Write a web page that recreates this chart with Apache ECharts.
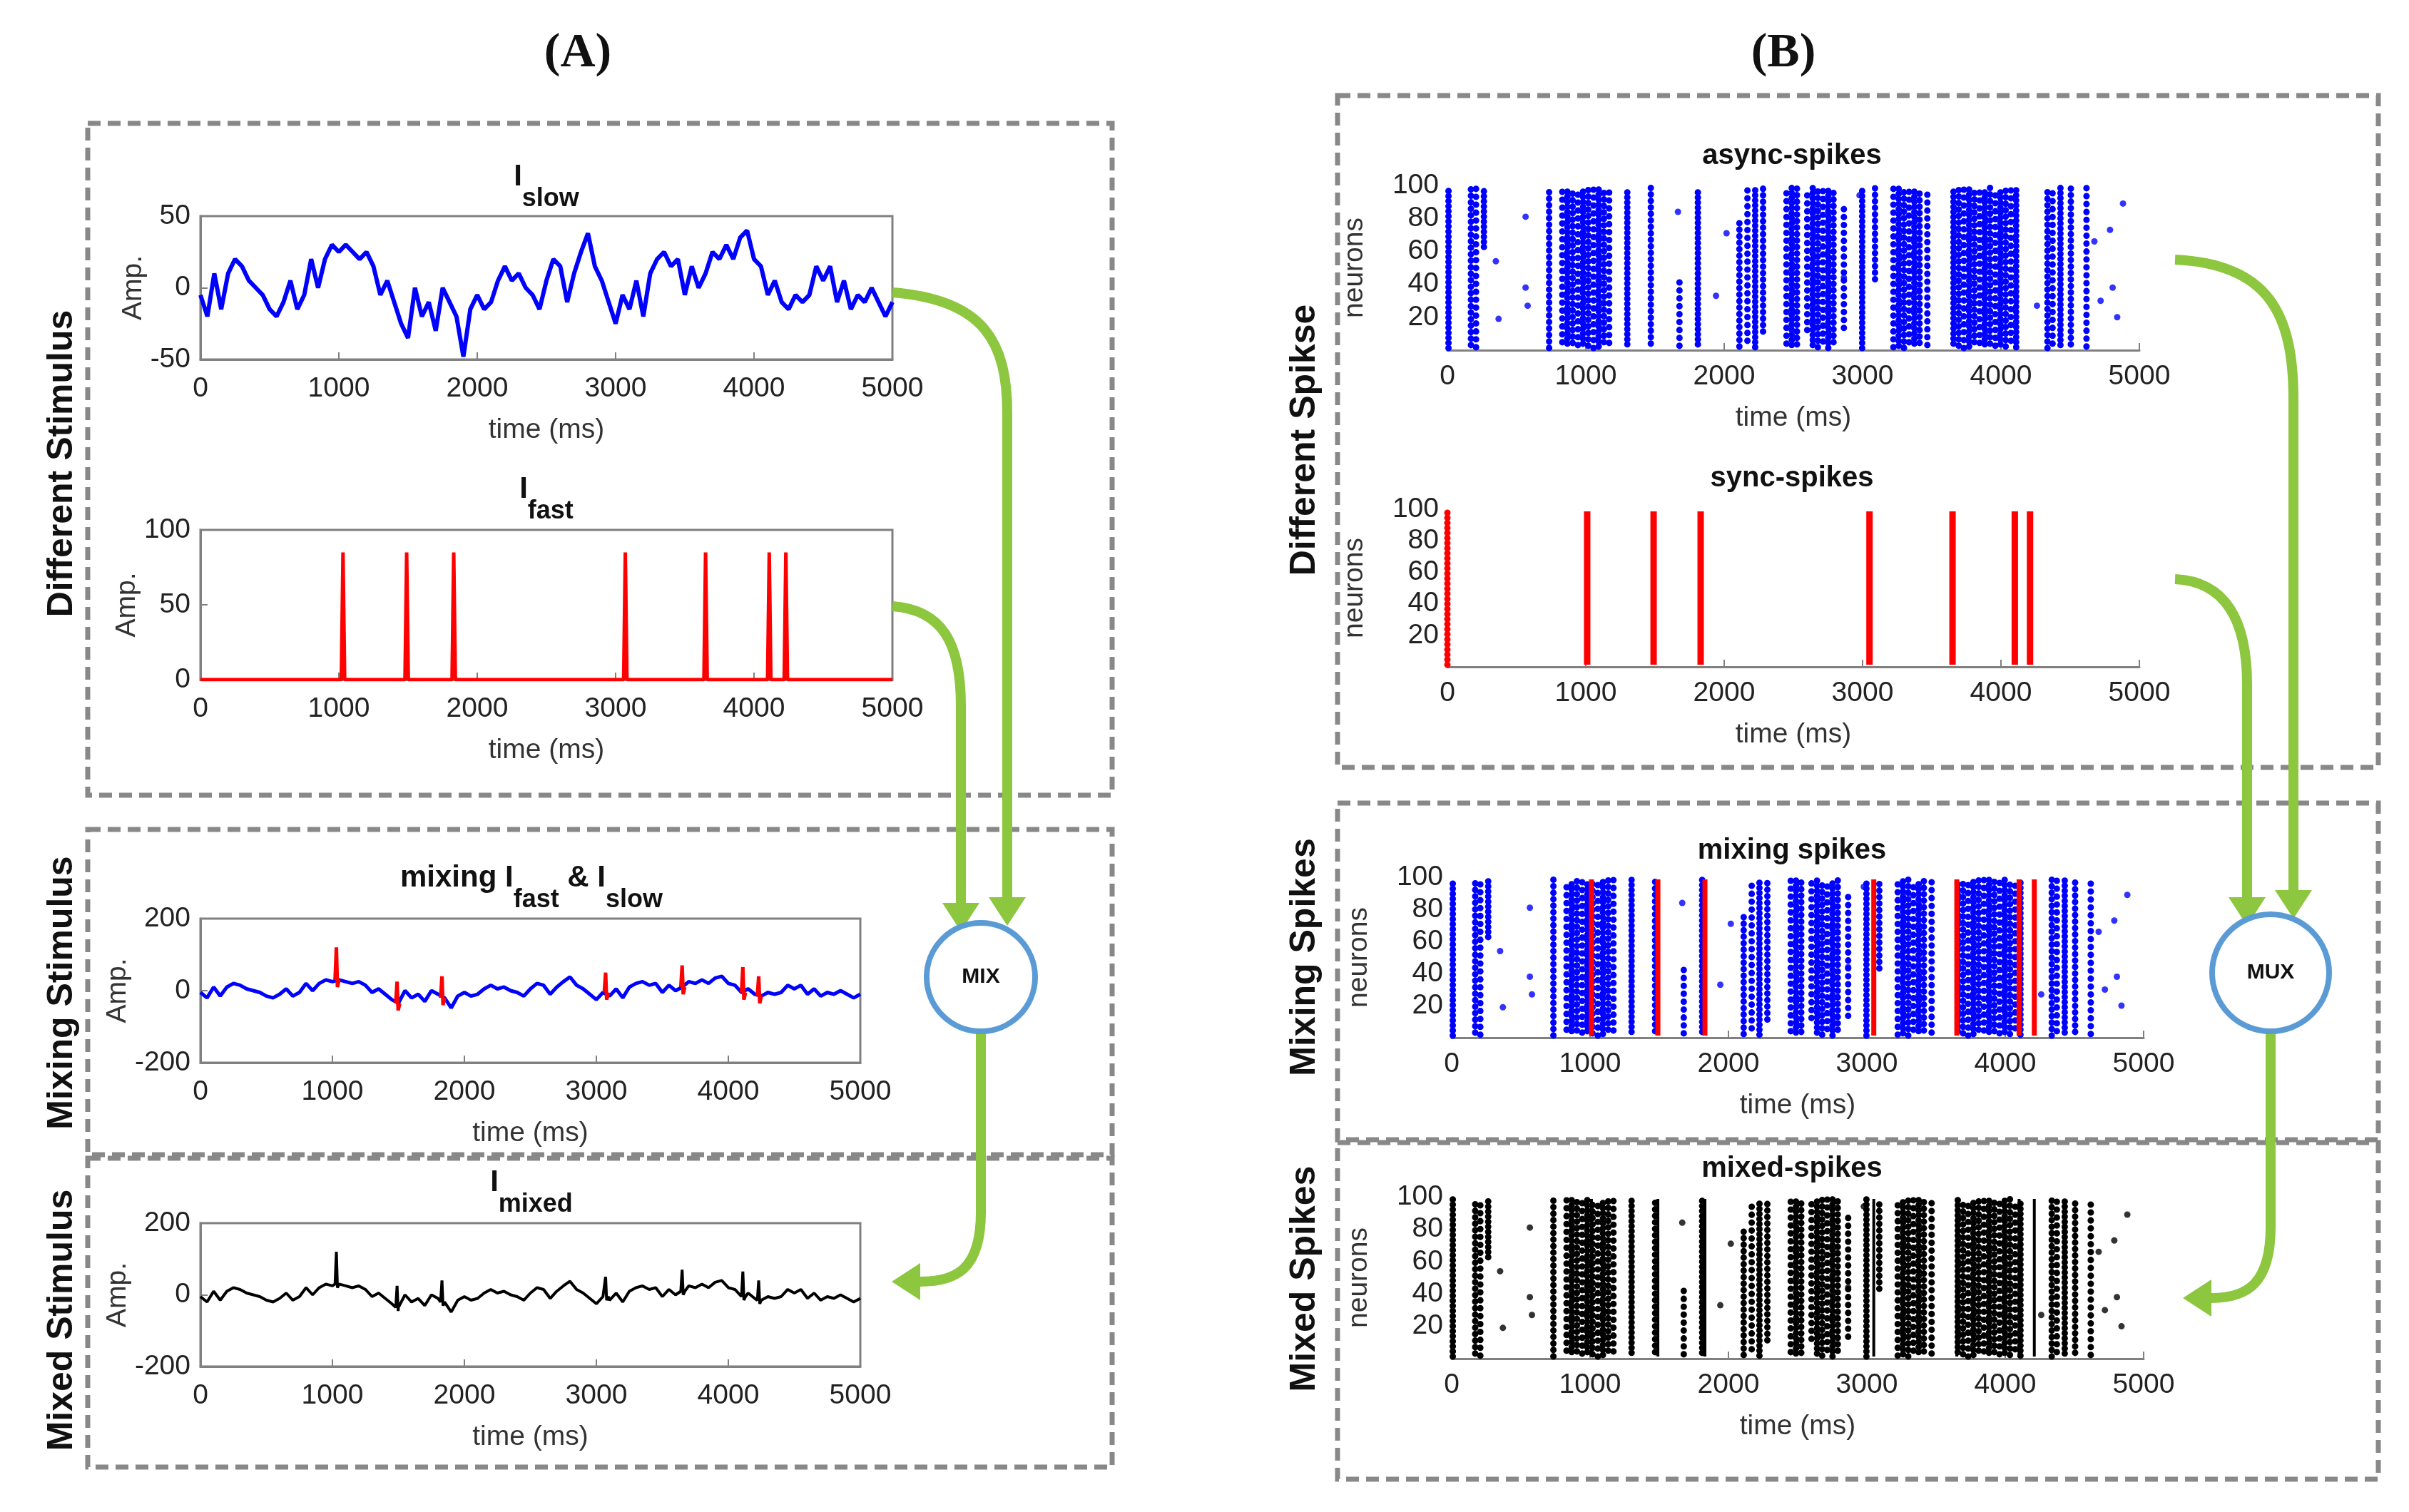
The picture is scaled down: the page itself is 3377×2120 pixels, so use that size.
<!DOCTYPE html>
<html><head><meta charset="utf-8">
<script src="https://cdn.jsdelivr.net/npm/echarts@6/dist/echarts.min.js"></script>
<style>html,body{margin:0;padding:0;background:#fff}#c{width:3377px;height:2120px}</style>
</head><body><div id="c"></div>
<script>
// ---- data ----
const slowTimes = [0,50,100,150,200,250,300,350,400,450,500,550,600,650,700,750,800,850,900,950,1000,1050,1100,1150,1200,1250,1300,1350,1400,1450,1500,1550,1600,1650,1700,1750,1800,1850,1900,1950,2000,2050,2100,2150,2200,2250,2300,2350,2400,2450,2500,2550,2600,2650,2700,2750,2800,2850,2900,2950,3000,3050,3100,3150,3200,3250,3300,3350,3400,3450,3500,3550,3600,3650,3700,3750,3800,3850,3900,3950,4000,4050,4100,4150,4200,4250,4300,4350,4400,4450,4500,4550,4600,4650,4700,4750,4800,4850,4900,4950,5000];
const slowValues = [-5,-20,10,-15,10,20,15,5,0,-5,-15,-20,-10,5,-15,-5,20,0,20,30,25,30,25,20,25,15,-5,5,-10,-25,-35,0,-20,-10,-30,0,-10,-20,-48,-15,-5,-15,-10,5,15,5,10,0,-5,-15,5,20,15,-10,10,25,38,15,5,-10,-25,-5,-15,5,-20,10,20,25,15,20,-5,15,0,10,25,20,30,20,35,40,20,15,-5,5,-10,-15,-5,-10,-5,15,5,15,-10,5,-15,-5,-10,0,-10,-20,-10];
const fastSpikeTimes = [1030,1490,1830,3070,3650,4110,4230];
const fastSpikeAmp = [85,85,85,85,85,85,85];
const mixSpikeAmp = [90,60,60,55,60,70,55];
const xTicks = [0,1000,2000,3000,4000,5000];
// async raster columns: [time, neuronFrom, neuronTo]
const asyncColumns = [[8,0,100],[170,0,100],[207,0,100],[264,60,100],[735,0,100],[830,0,100],[867,0,100],[905,0,100],[943,0,100],[980,0,100],[1018,0,100],[1056,0,100],[1093,0,100],[1131,0,100],[1169,0,100],[1300,0,100],[1470,0,100],[1677,0,45],[1810,0,100],[2110,0,80],[2168,0,100],[2224,0,100],[2281,10,100],[2450,0,100],[2488,0,100],[2526,0,100],[2600,10,100],[2640,0,100],[2677,0,100],[2714,0,100],[2752,0,100],[2790,0,100],[2865,10,90],[2997,0,100],[3090,40,100],[3223,0,100],[3261,0,100],[3299,0,100],[3336,0,100],[3374,0,100],[3412,0,100],[3468,0,100],[3657,0,100],[3695,0,100],[3732,0,100],[3770,0,100],[3808,0,100],[3846,0,100],[3883,0,100],[3921,0,100],[3959,0,100],[3996,0,100],[4034,0,100],[4072,0,100],[4110,0,100],[4336,0,100],[4373,0,100],[4430,0,100],[4505,0,100],[4618,0,100]];
const asyncDots = [[565,81],[565,38],[580,27],[350,54],[370,19],[1666,84],[1941,33],[4788,73],[4882,89],[4807,38],[4675,66],[4260,27],[2978,94],[2865,44],[2017,71],[4840,20],[4720,30]];
const syncTimes = [1010,1490,1830,3050,3650,4100,4210];
const neuronTicks = [20,40,60,80,100];

// ---- layout helpers ----
const FS = 39;
const grids = [
  {left:281, top:303, width:970, height:201},
  {left:281, top:743, width:970, height:210},
  {left:281, top:1288, width:925, height:202},
  {left:281, top:1715, width:925, height:201},
  {left:2029, top:260, width:970, height:231},
  {left:2029, top:714, width:970, height:221},
  {left:2035, top:1230, width:970, height:225},
  {left:2035, top:1678, width:970, height:227}
];
const lineYs = [[-50,50,50],[0,100,50],[-200,200,200],[-200,200,200]];
const xAxes = [], yAxes = [];
grids.forEach((g,i)=>{
  const raster = i>=4;
  g.show = !raster; g.borderColor='#808080'; g.borderWidth=3; g.backgroundColor='transparent';
  xAxes.push({gridIndex:i,type:'value',min:0,max:5000,interval:1000,
    name:'time (ms)',nameLocation:'middle',nameGap:raster?76:80,nameTextStyle:{fontSize:FS,color:'#333',fontFamily:'Liberation Sans'},
    axisLine:{show:true,onZero:false,lineStyle:{color:'#808080',width:3}},
    axisTick:{show:true,inside:true,length:10,lineStyle:{color:'#808080',width:2}},
    axisLabel:{fontSize:FS,color:'#222',margin:raster?18:22,fontFamily:'Liberation Sans',formatter:v=>String(v)},splitLine:{show:false}});
  if(!raster){
    const [mn,mx,it]=lineYs[i];
    yAxes.push({gridIndex:i,type:'value',min:mn,max:mx,interval:it,
      name:'Amp.',nameLocation:'middle',nameGap:i<2?70:90,nameTextStyle:{fontSize:FS,color:'#333',fontFamily:'Liberation Sans'},
      axisLine:{show:true,onZero:false,lineStyle:{color:'#808080',width:3}},
      axisTick:{show:true,inside:true,length:10,lineStyle:{color:'#808080',width:2}},
      axisLabel:{fontSize:FS,color:'#222',margin:14,fontFamily:'Liberation Sans'},splitLine:{show:false}});
  } else {
    yAxes.push({gridIndex:i,type:'value',min:0,max:100,interval:20,
      name:'neurons',nameLocation:'middle',nameGap:110,nameTextStyle:{fontSize:FS,color:'#333',fontFamily:'Liberation Sans'},
      axisLine:{show:false},axisTick:{show:false},
      axisLabel:{fontSize:FS,color:'#222',margin:12,fontFamily:'Liberation Sans',formatter:v=>v===0?'':String(v)},splitLine:{show:false}});
  }
});

const slowData = slowTimes.map((t,k)=>[t,slowValues[k]]);
function slowAt(t){ return slowValues[Math.round(t/50)]; }
const fastData = [[0,0]];
fastSpikeTimes.forEach((t,k)=>{ fastData.push([t-12,0],[t,fastSpikeAmp[k]],[t+12,0]); });
fastData.push([5000,0]);
const mixedData = [];
slowTimes.forEach((t,k)=>mixedData.push([t,slowValues[k]]));
fastSpikeTimes.forEach((t,k)=>{ const b=slowAt(t); mixedData.push([t-10,b],[t,b+mixSpikeAmp[k]],[t+8,b-10],[t+20,b]); });
mixedData.sort((a,b)=>a[0]-b[0]);

function colSeries(gi, data, color, solid, width){
  return {type:'custom',xAxisIndex:gi,yAxisIndex:gi,data:data,silent:true,
    renderItem:(p,api)=>{
      const a=api.coord([api.value(0),api.value(1)]), b=api.coord([api.value(0),api.value(2)]);
      return {type:'line',shape:{x1:a[0],y1:a[1]-3,x2:b[0],y2:b[1]+3},
        style:solid?{stroke:color,lineWidth:width||8}:{stroke:color,lineWidth:9,lineDash:[0.1,7+(p.dataIndex%3)*2],lineDashOffset:(p.dataIndex*5)%11,lineCap:'round'}};
    }};
}
function dotSeries(gi,color){
  return {type:'scatter',xAxisIndex:gi,yAxisIndex:gi,data:asyncDots,symbolSize:9,itemStyle:{color:color},silent:true};
}
const syncCols = syncTimes.map(t=>[t,0,100]);
const series = [
  {type:'line',xAxisIndex:0,yAxisIndex:0,data:slowData,showSymbol:false,lineStyle:{color:'#0000ff',width:6},silent:true},
  {type:'line',xAxisIndex:1,yAxisIndex:1,data:fastData,showSymbol:false,lineStyle:{color:'#ff0000',width:5},silent:true},
  {type:'line',xAxisIndex:2,yAxisIndex:2,data:slowData,showSymbol:false,lineStyle:{color:'#0000ff',width:5},silent:true},
  {type:'line',xAxisIndex:3,yAxisIndex:3,data:mixedData,showSymbol:false,lineStyle:{color:'#000',width:4},silent:true},
  colSeries(4,asyncColumns,'#0000ff',false), dotSeries(4,'#0000ff'),
  colSeries(5,[[0,0,100]],'#ff0000',false), colSeries(5,syncCols,'#ff0000',true,9),
  colSeries(6,asyncColumns,'#0000ff',false), dotSeries(6,'#0000ff'), colSeries(6,syncCols,'#ff0000',true,7),
  colSeries(7,asyncColumns,'#000',false), dotSeries(7,'#000'), colSeries(7,syncCols,'#000',true,4)
];
fastSpikeTimes.forEach((t,k)=>{ const b=slowAt(t);
  series.push({type:'line',xAxisIndex:2,yAxisIndex:2,showSymbol:false,silent:true,lineStyle:{color:'#ff0000',width:5},
    data:[[t-10,b],[t,b+mixSpikeAmp[k]],[t+8,b-20],[t+20,b]]}); });

// ---- graphics ----
const G = [];
function box(x1,y1,x2,y2){ G.push({type:'rect',shape:{x:x1,y:y1,width:x2-x1,height:y2-y1},style:{fill:'none',stroke:'#888',lineWidth:7,lineDash:[18,10]}}); }
box(123,173,1559,1115); box(123,1163,1559,1619); box(123,1624,1559,2057);
box(1875,134,3334,1076); box(1875,1126,3334,1598); box(1875,1602,3334,2074);
function txt(x,y,text,fs,opts){ G.push(Object.assign({type:'text',x:x,y:y,style:Object.assign({text:text,fontSize:fs,fontWeight:'bold',fill:'#111',fontFamily:'Liberation Sans',align:'center',verticalAlign:'middle'},opts&&opts.style||{})},opts&&opts.el||{})); }
txt(810,75,'(A)',68,{style:{fontFamily:'Liberation Serif'}});
txt(2500,75,'(B)',68,{style:{fontFamily:'Liberation Serif'}});
const rich = {m:{fontSize:42,fontWeight:'bold',fontFamily:'Liberation Sans',fill:'#111',verticalAlign:'top',lineHeight:46},
  s:{fontSize:36,fontWeight:'bold',fontFamily:'Liberation Sans',fill:'#111',verticalAlign:'bottom',lineHeight:70}};
function rtxt(x,y,text){ G.push({type:'text',x:x,y:y,style:{text:text,rich:rich,align:'center',verticalAlign:'middle'}}); }
rtxt(766,262,'{m|I}{s|slow}');
rtxt(766,700,'{m|I}{s|fast}');
rtxt(745,1245,'{m|mixing I}{s|fast}{m| & I}{s|slow}');
rtxt(745,1672,'{m|I}{s|mixed}');
txt(2512,219,'async-spikes',40); txt(2512,671,'sync-spikes',40);
txt(2512,1193,'mixing spikes',40); txt(2512,1639,'mixed-spikes',40);
function side(x,y,t){ txt(x,y,t,50,{el:{rotation:Math.PI/2}}); }
side(87,650,'Different Stimulus'); side(87,1392,'Mixing Stimulus'); side(87,1851,'Mixed Stimulus');
side(1829,617,'Different Spikse'); side(1829,1342,'Mixing Spikes'); side(1829,1793,'Mixed Spikes');
function circ(cx,cy,r,t){ G.push({type:'circle',shape:{cx:cx,cy:cy,r:r},style:{fill:'#fff',stroke:'#5b9bd5',lineWidth:8},z:5});
  G.push({type:'text',x:cx,y:cy,z:6,style:{text:t,fontSize:30,fontWeight:'bold',fill:'#111',fontFamily:'Liberation Sans',align:'center',verticalAlign:'middle'}}); }
const GR='#8dc63f';
const AS = {stroke:GR,lineWidth:14,fill:'none'};
function seg(x1,y1,x2,y2){ G.push({type:'line',shape:{x1,y1,x2,y2},style:AS,z:3}); }
function bez(x1,y1,c1x,c1y,c2x,c2y,x2,y2){ G.push({type:'bezierCurve',shape:{x1,y1,cpx1:c1x,cpy1:c1y,cpx2:c2x,cpy2:c2y,x2,y2},style:AS,z:3}); }
function head(tip,dir){ const [x,y]=tip, w=26, l=40; let pts;
  if(dir==='down') pts=[[x-w,y-l],[x+w,y-l],[x,y]]; else pts=[[x+l,y-w],[x+l,y+w],[x,y]];
  G.push({type:'polygon',shape:{points:pts},style:{fill:GR},z:3}); }
bez(1251,410,1380,420,1412,480,1412,580); seg(1412,578,1412,1262); head([1412,1298],'down');
bez(1251,850,1320,855,1347,900,1347,990); seg(1347,988,1347,1270); head([1347,1306],'down');
seg(1375,1446,1375,1702); bez(1375,1700,1375,1780,1340,1797,1290,1797); head([1250,1797],'left');
bez(3049,364,3180,370,3215,440,3215,560); seg(3215,558,3215,1250); head([3215,1288],'down');
bez(3049,812,3120,815,3150,870,3150,960); seg(3150,958,3150,1260); head([3150,1298],'down');
seg(3183,1446,3183,1722); bez(3183,1720,3183,1800,3150,1820,3100,1820); head([3060,1820],'left');
circ(1375,1370,76,'MIX'); circ(3183,1364,82,'MUX');

const chart = echarts.init(document.getElementById('c'));
chart.setOption({animation:false,backgroundColor:'#fff',grid:grids,xAxis:xAxes,yAxis:yAxes,series:series,graphic:{elements:G}});
</script></body></html>
